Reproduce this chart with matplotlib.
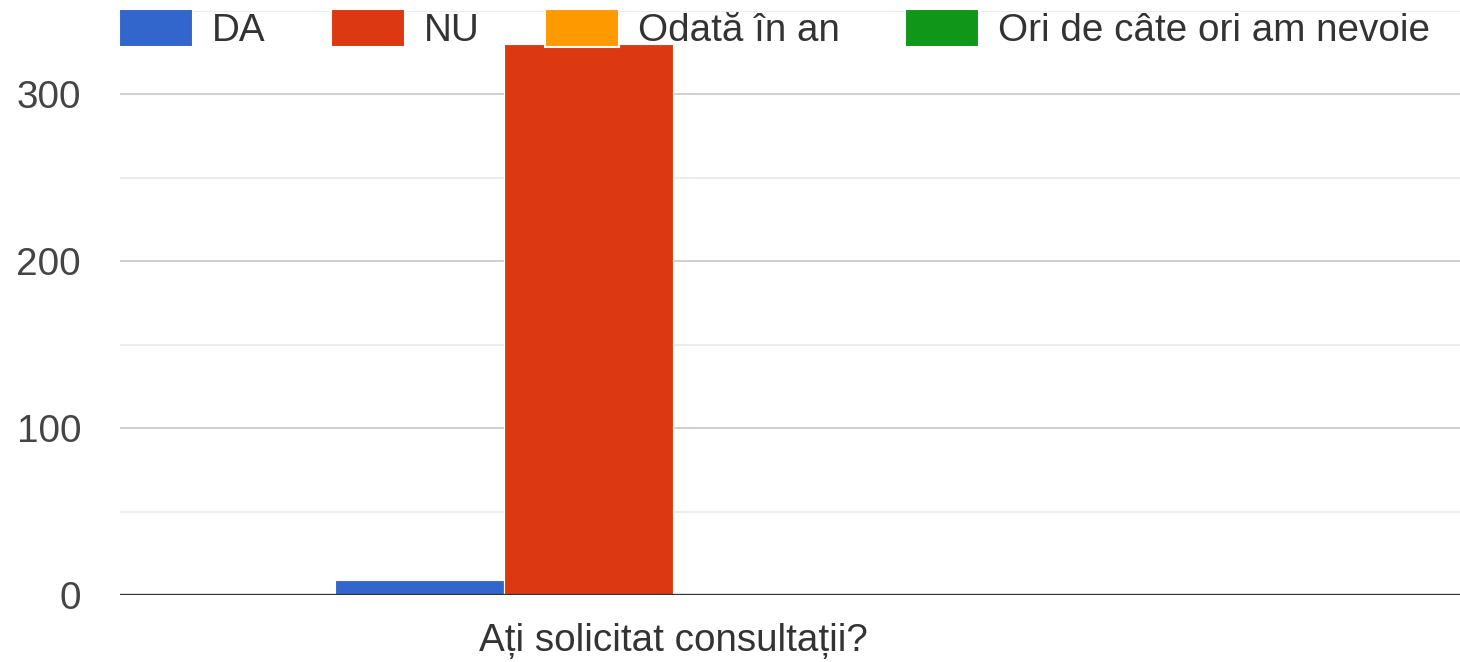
import matplotlib
matplotlib.use("Agg")
import matplotlib.pyplot as plt
from matplotlib.ticker import MultipleLocator

plt.rcParams['font.family'] = ['Liberation Sans', 'DejaVu Sans']

# Survey answers for one question
category = "Ați solicitat consultații?"
series_names = ["DA", "NU", "Odată în an", "Ori de câte ori am nevoie"]
series_values = [9, 330, 0, 0]
series_colors = ["#3366CC", "#DC3912", "#FF9900", "#109618"]
y_ticks = [0, 100, 200, 300]

FS = 27.8
TXT = "#333333"

fig = plt.figure(figsize=(14.6, 6.62), dpi=100)
ax = fig.add_axes([120 / 1460, 1 - 595 / 662, 1 - 120 / 1460, (595 - 10.5) / 662])

bar_w = 0.2
n = len(series_names)
for i, (name, val, col) in enumerate(zip(series_names, series_values, series_colors)):
    x = (i - (n - 1) / 2) * bar_w
    ax.bar(x, val, width=bar_w, color=col, edgecolor="white", linewidth=0.8,
           label=name, zorder=2)

ax.set_xlim(-0.654, 0.931)
ax.set_ylim(0, 350)

ax.yaxis.set_major_locator(MultipleLocator(100))
ax.yaxis.set_minor_locator(MultipleLocator(50))
ax.set_yticks(y_ticks)
ax.grid(axis="y", which="major", color="#cccccc", linewidth=1.3, zorder=0)
ax.grid(axis="y", which="minor", color="#ebebeb", linewidth=1.3, zorder=0)
ax.set_axisbelow(True)
ax.axhline(0, color="#333333", linewidth=2.4, zorder=3)

for s in ax.spines.values():
    s.set_visible(False)

ax.tick_params(axis="y", which="both", length=0, labelsize=FS, labelcolor="#444444", pad=28)
ax.set_xticks([0])
ax.set_xticklabels([category])
ax.tick_params(axis="x", length=0, labelsize=FS, labelcolor=TXT, pad=20)

leg = fig.legend(loc="upper left", bbox_to_anchor=(119 / 1460, 1 - 9 / 662), ncol=4,
                 frameon=False, borderpad=0, borderaxespad=0, fontsize=FS,
                 handlelength=1.92, handleheight=1.12, handletextpad=0.48,
                 columnspacing=1.7, labelcolor=TXT)
for h in leg.legend_handles:
    h.set_linewidth(1.5)

fig.savefig("out.png", dpi=100, facecolor="white")
